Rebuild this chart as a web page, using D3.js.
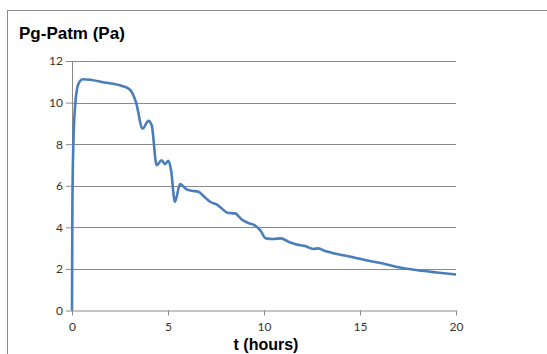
<!DOCTYPE html>
<html>
<head>
<meta charset="utf-8">
<script src="https://cdn.jsdelivr.net/npm/d3@7"></script>
<style>
  body { margin: 0; background: #fff; }
</style>
</head>
<body>
<div id="main"></div>
<script>
// time (hours) and pressure difference (Pa)
let tHours = [0, 0.02, 0.07, 0.16, 0.25, 0.39, 0.56, 1.8, 2.6, 3.02, 3.33, 3.68, 3.98, 4.15, 4.41, 4.67, 4.84, 5.02, 5.16,
  5.36, 5.63, 5.97, 6.23, 6.58, 6.89, 7.19, 7.53, 7.8, 8.1, 8.49, 8.84, 9.15, 9.5, 9.8, 10.1, 10.49, 10.89, 11.27, 11.7,
  12.14, 12.57, 12.83, 13.18, 13.52, 14.05, 14.74, 15.26, 16.2, 17.0, 18.0, 19.0, 20]
let pressure = [0, 5, 8, 9.8, 10.6, 11.0, 11.12, 10.95, 10.8, 10.62, 10.03, 8.75, 9.12, 8.91, 6.99, 7.23, 7.04, 7.2, 6.75,
  5.23, 6.08, 5.83, 5.76, 5.71, 5.47, 5.23, 5.1, 4.91, 4.7, 4.67, 4.38, 4.22, 4.11, 3.87, 3.47, 3.44, 3.47, 3.31, 3.18,
  3.1, 2.96, 2.99, 2.86, 2.78, 2.67, 2.54, 2.43, 2.26, 2.08, 1.94, 1.83, 1.73]
let xTicks = [0, 5, 10, 15, 20]
let yTicks = [0, 2, 4, 6, 8, 10, 12]

let margin = {top: 61, left: 72},
    width = 384,
    height = 249.5;

let svg = d3.select("#main")
    .append("svg")
    .attr("width", 547)
    .attr("height", 354)

// chart frame
svg.append("rect")
    .attr("x", 7.5)
    .attr("y", 10.5)
    .attr("width", 560)
    .attr("height", 360)
    .attr("fill", "#fff")
    .attr("stroke", "#8c8c8c")

let g = svg.append("g")
    .attr("transform", "translate(" + margin.left + "," + margin.top + ")")

let x = d3.scaleLinear().domain([0, 20]).range([0, width])
let y = d3.scaleLinear().domain([0, 12]).range([height, 0])

// gridlines
g.selectAll(".grid")
    .data(yTicks.slice(1))
    .enter()
    .append("line")
    .attr("x1", 0)
    .attr("x2", width)
    .attr("y1", d => Math.round(y(d)) + 0.5)
    .attr("y2", d => Math.round(y(d)) + 0.5)
    .attr("stroke", "#8a8a8a")

let xAxis = g.append("g")
    .attr("transform", "translate(0," + height + ")")
    .call(d3.axisBottom(x).tickValues(xTicks).tickSize(5).tickSizeOuter(0))

let yAxis = g.append("g")
    .call(d3.axisLeft(y).tickValues(yTicks).tickSize(6).tickSizeOuter(0))

;[xAxis, yAxis].forEach(ax => {
    ax.select(".domain").attr("stroke", "#8a8a8a")
    ax.selectAll(".tick line").attr("stroke", "#8a8a8a")
    ax.selectAll(".tick text")
        .attr("fill", "#333")
        .attr("font-family", "Lato, 'Open Sans', sans-serif")
        .attr("font-size", "12px")
})
xAxis.selectAll(".tick text").attr("dy", "1.0em")
yAxis.selectAll(".tick text").attr("x", -9)

// the curve
let line = d3.line()
    .x((d, i) => x(tHours[i]))
    .y(d => y(d))
    .curve(d3.curveMonotoneX)

g.append("path")
    .datum(pressure)
    .attr("d", line)
    .attr("fill", "none")
    .attr("stroke", "#4a7ebb")
    .attr("stroke-width", 2.6)
    .attr("stroke-linejoin", "round")

// titles
svg.append("text")
    .attr("x", 19)
    .attr("y", 39)
    .attr("font-family", "Liberation Sans, Arial, sans-serif")
    .attr("font-weight", "bold")
    .attr("font-size", "17px")
    .attr("fill", "#000")
    .text("Pg-Patm (Pa)")

svg.append("text")
    .attr("x", 266)
    .attr("y", 350)
    .attr("text-anchor", "middle")
    .attr("font-family", "Liberation Sans, Arial, sans-serif")
    .attr("font-weight", "bold")
    .attr("font-size", "16px")
    .attr("fill", "#000")
    .text("t (hours)")
</script>
</body>
</html>
